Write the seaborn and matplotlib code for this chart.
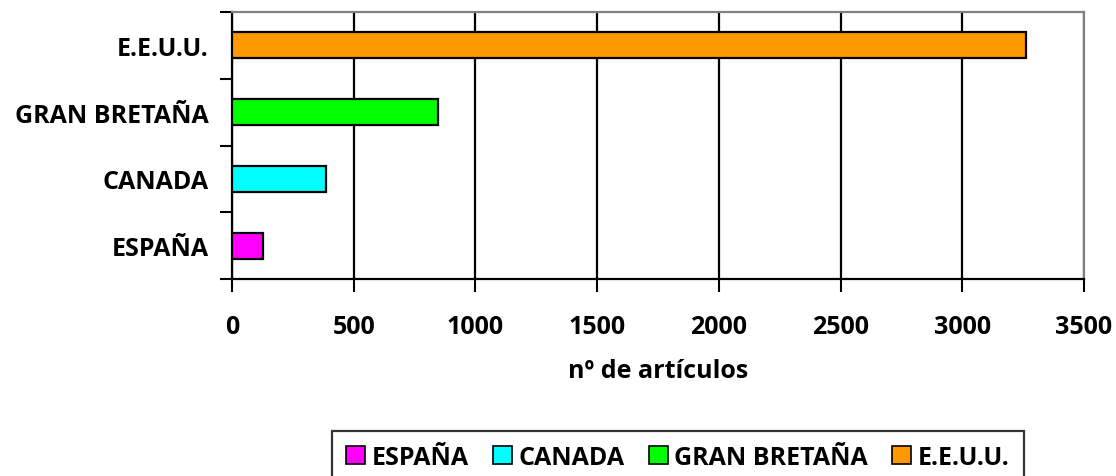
import matplotlib
matplotlib.use("Agg")
import matplotlib.pyplot as plt
import seaborn as sns
import pandas as pd
from matplotlib.patches import Patch

countries = ["E.E.U.U.", "GRAN BRETAÑA", "CANADA", "ESPAÑA"]
articles = [3260, 848, 385, 128]
colors = {"ESPAÑA": "#FF00FF", "CANADA": "#00FFFF", "GRAN BRETAÑA": "#00FF00", "E.E.U.U.": "#FF9900"}
legend_order = ["ESPAÑA", "CANADA", "GRAN BRETAÑA", "E.E.U.U."]
xticks = [0, 500, 1000, 1500, 2000, 2500, 3000, 3500]
xlabel = "nº de artículos"

sns.set_theme(style="white")
plt.rcParams["font.family"] = ["Open Sans", "DejaVu Sans"]
plt.rcParams["font.weight"] = "bold"
plt.rcParams["text.color"] = "black"
plt.rcParams["xtick.color"] = "black"
plt.rcParams["ytick.color"] = "black"
plt.rcParams["axes.labelcolor"] = "black"
FS = 18

df = pd.DataFrame({"country": countries, "n": articles})

fig = plt.figure(figsize=(11.16, 4.77), dpi=100)
ax = fig.add_axes([232 / 1116, 1 - 280 / 477, (1084 - 232) / 1116, (280 - 13) / 477])

sns.barplot(data=df, y="country", x="n", hue="country", order=countries,
            palette=colors, dodge=False, width=0.39, edgecolor="black",
            linewidth=1.6, legend=False, ax=ax, saturation=1, zorder=3)

ax.set_xlim(0, 3500)
ax.set_ylim(3.5, -0.5)
ax.set_xticks(xticks)
ax.set_xticklabels([str(t) for t in xticks], fontsize=FS, fontweight="bold")
ax.set_yticks(range(len(countries)))
ax.set_yticklabels(countries, fontsize=FS, fontweight="bold")
ax.tick_params(axis="y", which="major", length=0, pad=17)
ax.set_yticks([-0.5, 0.5, 1.5, 2.5, 3.5], minor=True)
ax.tick_params(axis="y", which="minor", length=9, width=1.5, color="black", left=True, direction="out")
ax.tick_params(axis="x", which="major", length=9, width=1.5, color="black", bottom=True, direction="out", pad=16)
ax.set_xlabel(xlabel, fontsize=FS, fontweight="bold", labelpad=14)
ax.set_ylabel("")

ax.grid(axis="x", color="black", linewidth=1.6, zorder=0)
ax.grid(axis="y", visible=False)
ax.set_axisbelow(True)

for side in ["left", "bottom"]:
    ax.spines[side].set_color("black")
    ax.spines[side].set_linewidth(1.6)
for side in ["top", "right"]:
    ax.spines[side].set_color("#808080")
    ax.spines[side].set_linewidth(1.6)

handles = [Patch(facecolor=colors[c], edgecolor="black", linewidth=1.2) for c in legend_order]
leg = fig.legend(handles, legend_order, loc="upper left",
                 bbox_to_anchor=(332 / 1116, 1 - 432 / 477), ncol=4,
                 frameon=True, fancybox=False, borderaxespad=0,
                 prop={"size": FS, "weight": "bold"},
                 handlelength=0.76, handleheight=0.76, handletextpad=0.28,
                 columnspacing=0.95, borderpad=0.55)
leg.get_frame().set_edgecolor("black")
leg.get_frame().set_linewidth(1.6)

fig.savefig("out.png", dpi=100)
